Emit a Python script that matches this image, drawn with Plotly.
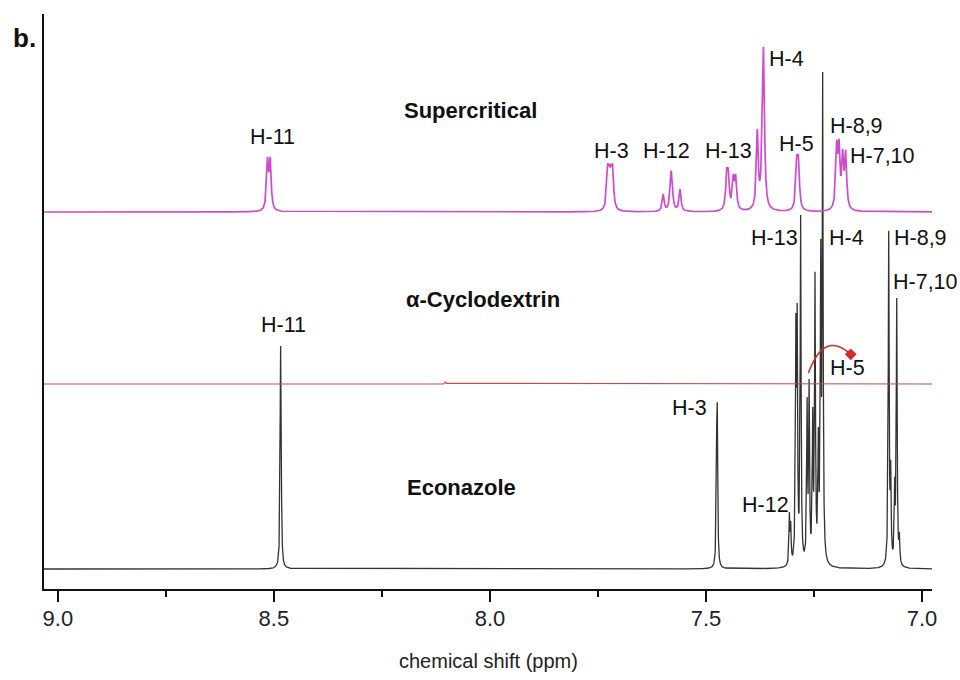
import numpy as np
import plotly.graph_objects as go

# ---- chemical shift axis (ppm) ----
ppm = np.arange(6.977, 9.0325, 0.0002)

# ---- line lists: shift (ppm) and observed intensity above baseline (a.u.) ----
# Supercritical complex
sc_shift = [8.5147, 8.5085,
            7.7276, 7.7238, 7.7199, 7.7160,
            7.5990, 7.5815, 7.5790, 7.5600,
            7.4521, 7.4483, 7.4368, 7.4313,
            7.3812, 7.3698, 7.3668,
            7.2900, 7.2860,
            7.1975, 7.1920, 7.1836, 7.1767]
sc_height = [55, 55,
             48, 48, 48, 48,
             18, 39, 38, 23,
             44, 44, 38, 38,
             83, 100, 165,
             57, 57,
             72, 73, 63, 62]

# alpha-cyclodextrin (flat in the aromatic region)
cd_shift = [8.103]
cd_height = [2]

# Econazole
ec_shift = [8.4845, 8.4830,
            7.4752, 7.4738,
            7.3070, 7.3040,
            7.2920, 7.2890, 7.2810,
            7.2660, 7.2613, 7.2530, 7.2477, 7.2400, 7.2345, 7.2300,
            7.0803, 7.0772, 7.0726,
            7.0633, 7.0586, 7.0525]
ec_height = [223, 126,
             146, 163,
             57, 48,
             256, 266, 354,
             172, 191, 162, 299, 142, 331, 497,
             37, 337, 109,
             92, 271, 37]

# vertical offsets of the stacked spectra
sc_offset = 357
cd_offset = 185
ec_offset = 0

# Lorentzian half-widths (ppm)
sc_hw = 0.0026
cd_hw = 0.0015
ec_hw = 0.0012

# tick values of the shift axis
tick_vals = [9.0, 8.5, 8.0, 7.5, 7.0]
tick_text = ["9.0", "8.5", "8.0", "7.5", "7.0"]


def lorentz(d, hw):
    return hw ** 2 / (d ** 2 + hw ** 2)


def spectrum(shifts, heights, hw, offset):
    # amplitudes chosen so the summed curve passes through the observed
    # intensity at every line position
    s = np.asarray(shifts)
    h = np.asarray(heights, dtype=float)
    m = lorentz(s[:, None] - s[None, :], hw)
    amp = np.clip(np.linalg.solve(m, h), 0, None)
    y = np.zeros_like(ppm)
    for si, ai in zip(s, amp):
        y += ai * lorentz(ppm - si, hw)
    return y + offset


fig = go.Figure()
fig.add_trace(go.Scatter(x=ppm, y=spectrum(ec_shift, ec_height, ec_hw, ec_offset),
                         mode="lines", line=dict(color="#333333", width=1.3),
                         name="Econazole", hoverinfo="skip"))
fig.add_trace(go.Scatter(x=ppm, y=spectrum(cd_shift, cd_height, cd_hw, cd_offset),
                         mode="lines", line=dict(color="#c64b4b", width=1.2),
                         name="α-Cyclodextrin", hoverinfo="skip"))
fig.add_trace(go.Scatter(x=ppm, y=spectrum(sc_shift, sc_height, sc_hw, sc_offset),
                         mode="lines", line=dict(color="#d04ad0", width=1.7),
                         name="Supercritical", hoverinfo="skip"))

FAMILY = "Arial, Liberation Sans, sans-serif"
LABEL_FONT = dict(family=FAMILY, size=21.5, color="#111111")
BOLD_FONT = dict(family=FAMILY, size=22, color="#111111")


def px_to_data(X, Y):
    # page position -> (ppm, intensity)
    return 9.0 - (X - 58) / 432.0, 569.0 - Y


peak_labels = [
    ("H-11", 272.5, 136.7), ("H-3", 612, 150.7), ("H-12", 666.7, 150.7),
    ("H-13", 728, 150.7), ("H-4", 786, 59.3), ("H-5", 796, 144),
    ("H-8,9", 856.7, 125.7), ("H-7,10", 882.7, 156),
    ("H-13", 774, 238.3), ("H-4", 846.3, 238.3), ("H-8,9", 920, 238.3),
    ("H-7,10", 925, 281.7), ("H-5", 847.3, 368.3), ("H-3", 689.5, 408.3),
    ("H-12", 765.5, 505), ("H-11", 283.3, 325),
]
for txt, X, Y in peak_labels:
    x, y = px_to_data(X, Y)
    fig.add_annotation(x=x, y=y, text=txt, showarrow=False, font=LABEL_FONT,
                       xanchor="center", yanchor="middle")

for txt, X, Y in [("Supercritical", 470.5, 110.7), ("α-Cyclodextrin", 483, 299),
                  ("Econazole", 462, 487)]:
    x, y = px_to_data(X, Y)
    fig.add_annotation(x=x, y=y, text="<b>" + txt + "</b>", showarrow=False,
                       font=BOLD_FONT, xanchor="center", yanchor="middle")

# curved arrow marking the H-5 shift
x0, y0 = px_to_data(808.3, 373.3)
cx, cy = px_to_data(823.9, 329.6)
x1, y1 = px_to_data(850.7, 354.3)
fig.add_shape(type="path", xref="x", yref="y",
              path=f"M {x0},{y0} Q {cx},{cy} {x1},{y1}",
              line=dict(color="#d62a2a", width=1.5))
fig.add_trace(go.Scatter(x=[x1], y=[y1], mode="markers",
                         marker=dict(symbol="diamond", size=9, color="#d62a2a"),
                         hoverinfo="skip", showlegend=False))

# panel letter and axis title
fig.add_annotation(x=-0.0225, y=0.958, xref="paper", yref="paper", text="<b>b.</b>",
                   showarrow=False, font=dict(family=FAMILY, size=26, color="#111111"),
                   xanchor="center", yanchor="middle")
fig.add_annotation(x=0.5, y=-0.1252, xref="paper", yref="paper", text="chemical shift (ppm)",
                   showarrow=False, font=dict(family=FAMILY, size=20, color="#222222"),
                   xanchor="center", yanchor="middle")

fig.update_layout(
    width=960, height=680,
    margin=dict(l=44, r=28, t=14, b=91),
    paper_bgcolor="white", plot_bgcolor="white",
    showlegend=False,
    xaxis=dict(range=[9.032, 6.977], tickvals=tick_vals, ticktext=tick_text,
               ticks="outside", ticklen=11, tickwidth=2, tickcolor="#111111",
               showline=True, linewidth=2, linecolor="#111111",
               showgrid=False, zeroline=False,
               tickfont=dict(family=FAMILY, size=22, color="#222222"),
               ticklabelstandoff=-2,
               minor=dict(dtick=0.25, tick0=0, ticks="outside", ticklen=6, tickwidth=2,
                          tickcolor="#111111", showgrid=False)),
    yaxis=dict(range=[-20, 555], showline=True, linewidth=2, linecolor="#111111",
               showticklabels=False, ticks="", showgrid=False, zeroline=False),
)

fig.write_html("out.html")
